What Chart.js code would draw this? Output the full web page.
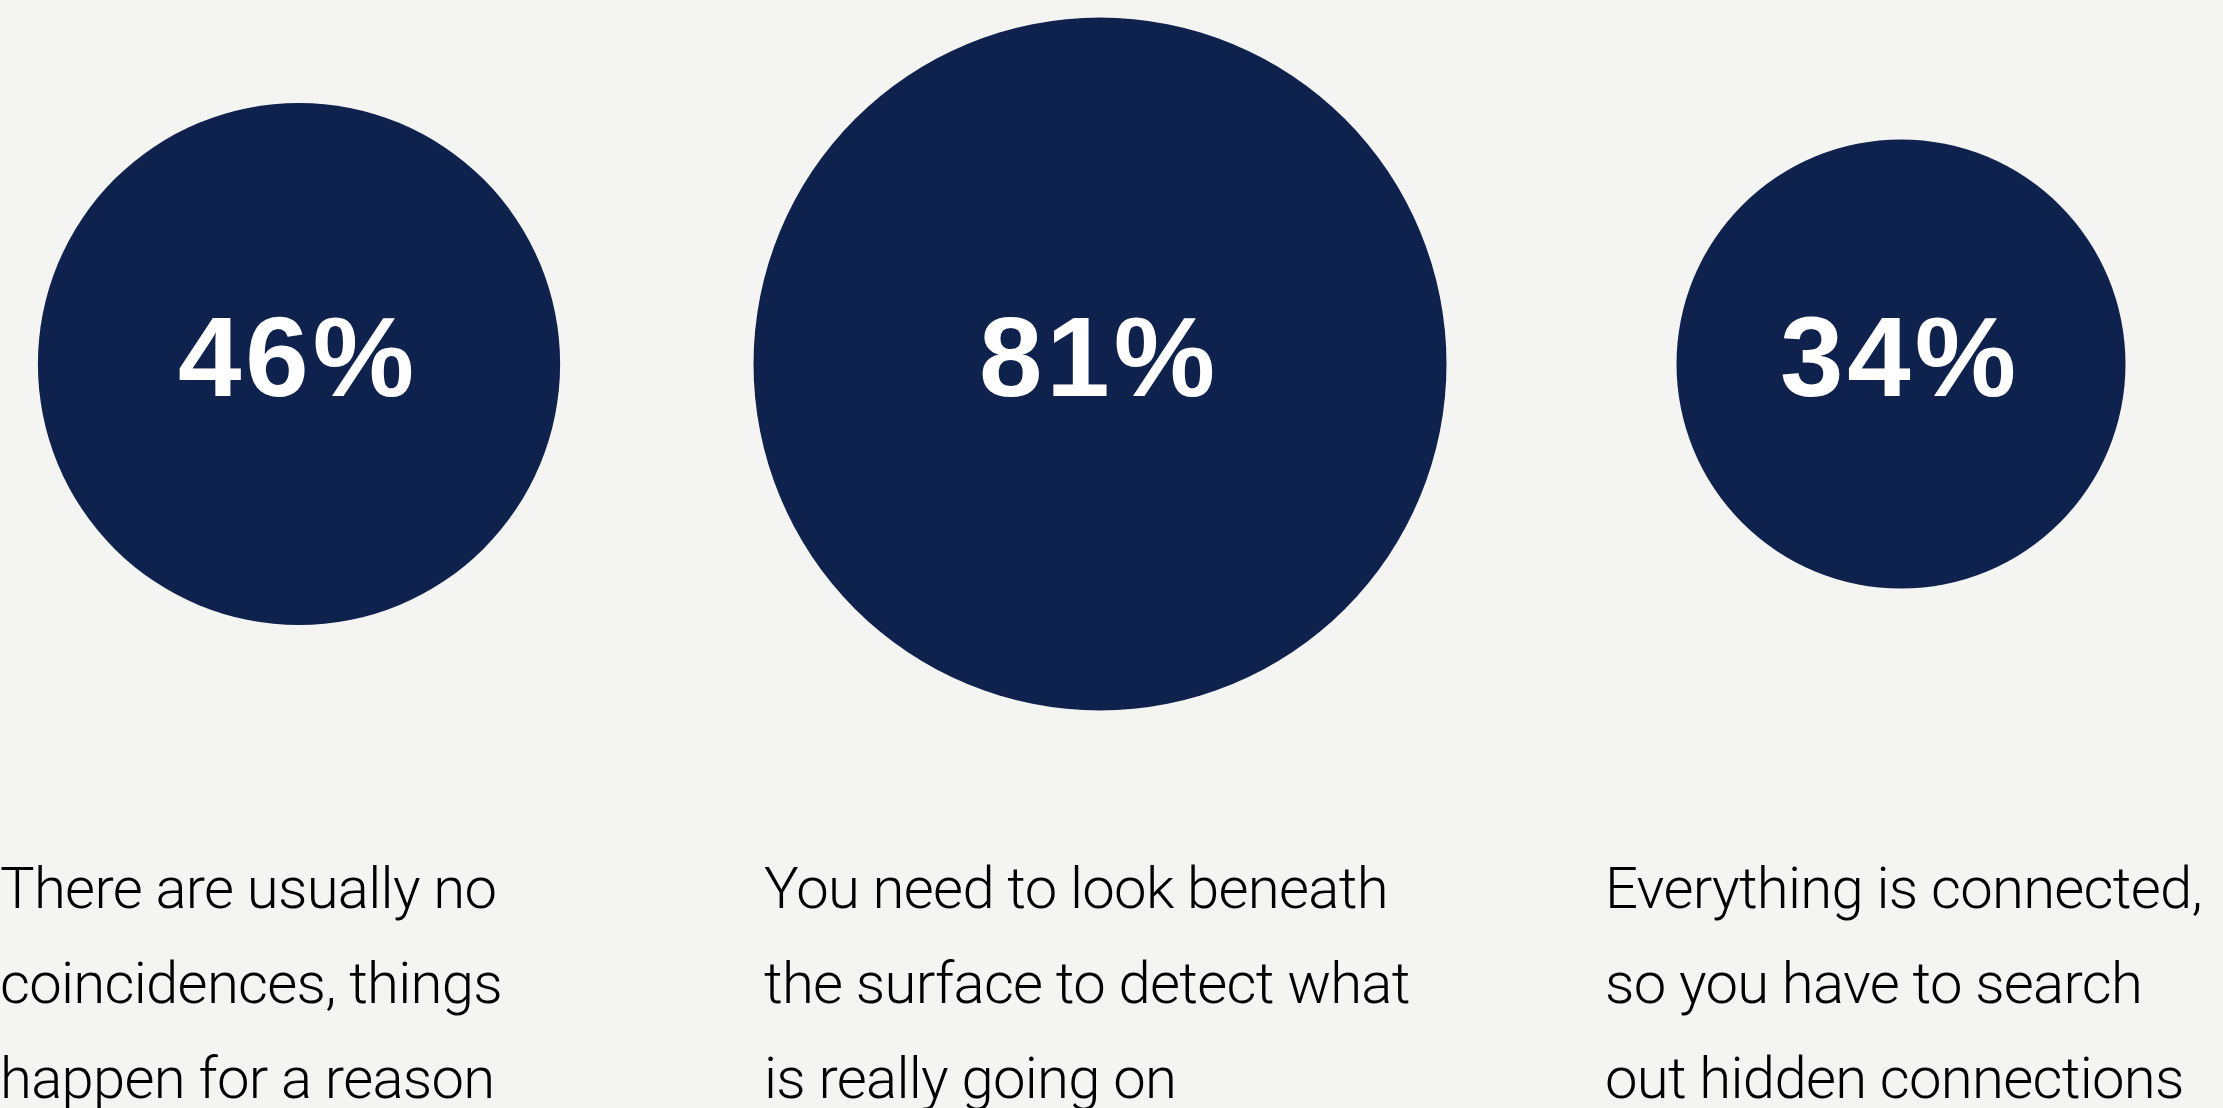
<!DOCTYPE html>
<html>
<head>
<meta charset="utf-8">
<script src="https://cdn.jsdelivr.net/npm/chart.js@4.4.1/dist/chart.umd.min.js"></script>
<style>
  html, body { margin: 0; padding: 0; background: #f4f4f2; overflow: hidden; }
  #wrap { position: relative; width: 2223px; height: 1108px; }
</style>
</head>
<body>
<div id="wrap"><canvas id="bubbles"></canvas></div>
<script>
// share of respondents agreeing with each statement
const shares = [46, 81, 34];
const slots = [0, 1, 2];
const statements = [
  ['There are usually no', 'coincidences, things', 'happen for a reason'],
  ['You need to look beneath', 'the surface to detect what', 'is really going on'],
  ['Everything is connected,', 'so you have to search', 'out hidden connections']
];

const NAVY = '#0f214d';
const RADIUS_K = 38.5;          // px per sqrt(percent), so bubble area tracks the value
const textLeft = [0, 764, 1605];
const textTop = 908;
const lineGap = 95;

const bubbleText = {
  id: 'bubbleText',
  afterDatasetsDraw(chart) {
    const ctx = chart.ctx;
    const meta = chart.getDatasetMeta(0);
    ctx.save();
    ctx.fillStyle = '#ffffff';
    ctx.font = 'bold 114px "Liberation Sans", Arial, sans-serif';
    ctx.letterSpacing = '4px';
    ctx.textAlign = 'center';
    ctx.textBaseline = 'alphabetic';
    meta.data.forEach((pt, i) => {
      // letterSpacing pads the trailing glyph too, nudge back by half of it
      ctx.fillText(shares[i] + '%', pt.x - 1, pt.y + 32);
    });

    ctx.fillStyle = '#000000';
    ctx.font = '300 58px Roboto, sans-serif';
    ctx.letterSpacing = '-0.7px';
    ctx.textAlign = 'left';
    statements.forEach((lines, i) => {
      lines.forEach((line, j) => ctx.fillText(line, textLeft[i], textTop + j * lineGap));
    });
    ctx.restore();
  }
};

new Chart(document.getElementById('bubbles'), {
  type: 'bubble',
  data: {
    datasets: [{
      data: shares.map((v, i) => ({ x: slots[i], y: 0, r: RADIUS_K * Math.sqrt(v) })),
      backgroundColor: NAVY,
      borderWidth: 0,
      hoverRadius: 0,
      clip: false
    }]
  },
  options: {
    responsive: true,
    maintainAspectRatio: false,
    animation: false,
    events: [],
    layout: {
      autoPadding: false,
      padding: { top: 0, left: 0, right: 0, bottom: 380 }
    },
    scales: {
      x: { type: 'linear', display: false, min: -0.3733, max: 2.402 },
      y: { type: 'linear', display: false, min: -1, max: 1 }
    },
    plugins: {
      legend: { display: false },
      tooltip: { enabled: false }
    }
  },
  plugins: [bubbleText]
});
</script>
</body>
</html>
